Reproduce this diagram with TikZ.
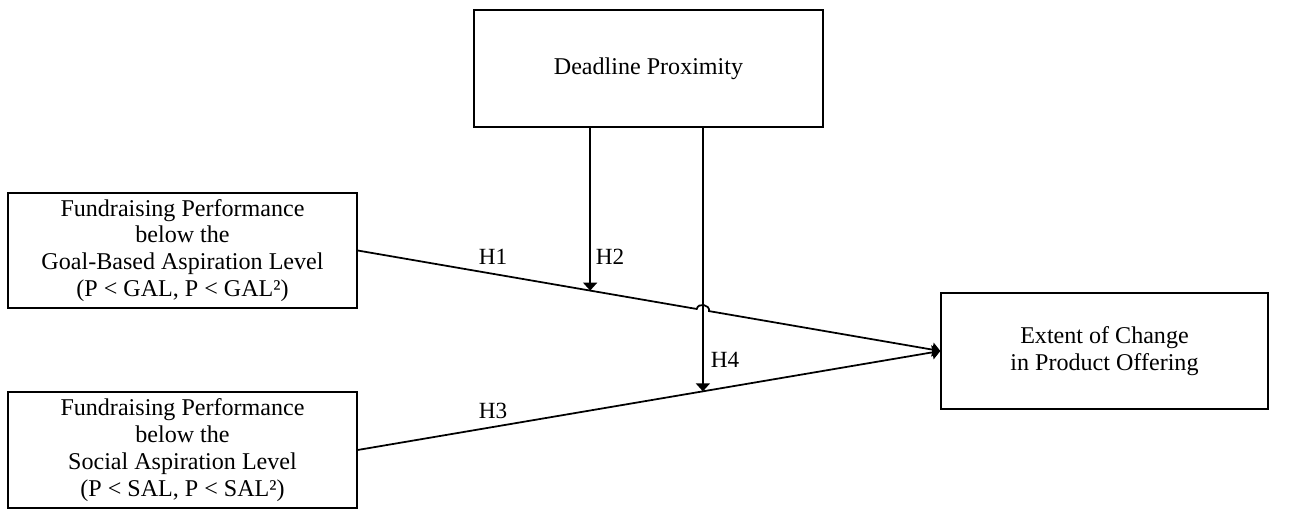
\documentclass[tikz,border=0pt]{standalone}
\usepackage{fontspec}
\setmainfont{Liberation Serif}
\usetikzlibrary{positioning, arrows.meta}
\usetikzlibrary{calc}

\begin{document}
\begin{tikzpicture}
    [
        x=0.02cm, y=-0.02cm,
        box/.style={draw, line width=0.8pt, align=center, inner sep=0pt,
            minimum width=6.98cm, minimum height=2.32cm,
            font=\fontsize{13.7}{15.3}\selectfont},
        link/.style={line width=1pt, -{Triangle[length=0.16cm, width=0.28cm]}},
        hlabel/.style={inner sep=0pt, font=\fontsize{13.2}{15}\selectfont},
    ]
    \useasboundingbox (0,0) rectangle (1289,509);

    \node[box, minimum height=2.34cm] (deadline) at (648.5,68.5) {Deadline Proximity};
    \node[box, minimum height=2.3cm] (gal) at (182.5,250.5)
        {Fundraising Performance\\below the\\Goal-Based Aspiration Level\\(P < GAL, P < GAL²)};
    \node[box] (sal) at (182.5,450)
        {Fundraising Performance\\below the\\Social Aspiration Level\\(P < SAL, P < SAL²)};
    \node[box, minimum width=6.54cm] (outcome) at (1104.5,351)
        {Extent of Change\\in Product Offering};

    \coordinate (m2) at ($(gal.east)!0.399!(outcome.west)$);
    \coordinate (m4) at ($(sal.east)!0.5925!(outcome.west)$);
    \coordinate (j1) at ($(gal.east)!0.582!(outcome.west)$);
    \coordinate (j2) at ($(gal.east)!0.603!(outcome.west)$);

    \draw[link] (gal.east) -- (j1) to[bend left=90, looseness=1.4] (j2) -- (outcome.west);
    \draw[link] (sal.east) -- (outcome.west);
    \draw[link] (deadline.south -| m2) -- (m2);
    \draw[link] (deadline.south -| m4) -- (m4);

    \node[hlabel] (h1) at (493,257) {H1};
    \node[hlabel] (h2) at (610,257) {H2};
    \node[hlabel] (h3) at (493,411) {H3};
    \node[hlabel] (h4) at (725,360) {H4};
\end{tikzpicture}
\end{document}
